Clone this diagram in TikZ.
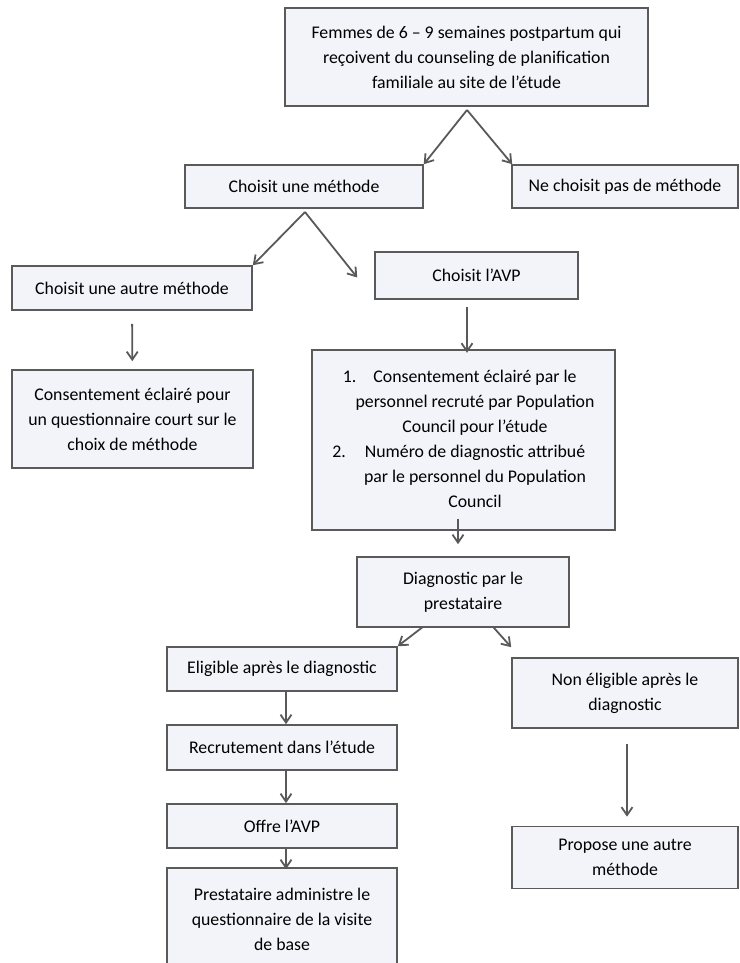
\documentclass[tikz,border=0pt]{standalone}
\usepackage{fontspec}
\setmainfont{Carlito}
\usetikzlibrary{arrows.meta,calc}
\definecolor{boxline}{HTML}{5A5A5A}
\definecolor{boxfill}{HTML}{F3F4FA}
\definecolor{arrowgray}{HTML}{595959}

\begin{document}
\begin{tikzpicture}[x=1pt,y=-1pt,>={Straight Barb[length=8pt,width=11pt]},
  box/.style={draw=boxline,fill=boxfill,line width=1.6pt,align=center,inner sep=0pt,
    font=\fontsize{17.8}{25}\selectfont},
  flow/.style={->,draw=arrowgray,line width=1.8pt}]
  \useasboundingbox (0,0) rectangle (739,963);
  % boxes
  \node[box,minimum width=363,minimum height=98] (femmes) at (466.5,57)
    {Femmes de 6 -- 9 semaines postpartum qui\\ reçoivent du counseling de planification\\ familiale au site de l’étude};
  \node[box,minimum width=238,minimum height=43] (choix) at (304,186.5) {Choisit une méthode};
  \node[box,minimum width=226,minimum height=43] (nochoix) at (625,186.5) {Ne choisit pas de méthode};
  \node[box,minimum width=240,minimum height=44] (autre) at (132,288) {Choisit une autre méthode};
  \node[box,minimum width=203,minimum height=47] (avp) at (476.5,275.5) {Choisit l’AVP};
  \node[box,minimum width=241,minimum height=98] (consent) at (132.5,419)
    {Consentement éclairé pour\\ un questionnaire court sur le\\ choix de méthode};
  \node[box,minimum width=303,minimum height=180] (big) at (463.5,440)
    {\raisebox{6.5pt}{\begin{tabular}{@{\hspace{23pt}}c@{}}
      \llap{1.\hspace{17pt}}Consentement éclairé par le\\
      personnel recruté par Population\\
      Council pour l’étude\\
      \llap{2.\hspace{19pt}}Numéro de diagnostic attribué\\
      par le personnel du Population\\
      Council
    \end{tabular}}};
  \node[box,minimum width=212,minimum height=70] (diag) at (463,592) {Diagnostic par le\\ prestataire};
  \node[box,minimum width=230,minimum height=44] (elig) at (282,669) {Eligible après le diagnostic};
  \node[box,minimum width=226,minimum height=70] (noelig) at (625,693) {Non éligible après le\\ diagnostic};
  \node[box,minimum width=230,minimum height=45] (recrut) at (282,747.5) {Recrutement dans l’étude};
  \node[box,minimum width=230,minimum height=44] (offre) at (282,826) {Offre l’AVP};
  \node[box,minimum width=230,minimum height=102] (presta) at (282,919)
    {Prestataire administre le\\ questionnaire de la visite\\ de base};
  \node[box,minimum width=226,minimum height=62] (propose) at (625,857.5) {Propose une autre\\ méthode};
  % forks
  \coordinate (fork1) at (467,110);
  \coordinate (fork2) at (305,212);
  % arrows
  \draw[flow] (fork1) -- (choix.north east);
  \draw[flow] (fork1) -- ($(nochoix.north west)+(1,0)$);
  \draw[flow] (fork2) -- (autre.north east);
  \draw[flow] (fork2) -- ($(avp.west)+(-17,2)$);
  \draw[flow,shorten <=13pt,shorten >=8pt] (autre) -- (consent);
  \draw[flow] ($(avp.south)+(-9.5,7)$) -- ++(0,46);
  \draw[flow] ($(big.south)+(-5.5,-12)$) -- ($(diag.north)+(-5,-12)$);
  \draw[flow] ($(diag.south)+(-40,-1)$) -- (elig.north east);
  \draw[flow] ($(diag.south)+(30,-1)$) -- ($(noelig.north west)+(0,-10)$);
  \draw[flow] ([xshift=4pt]elig.south) -- ([xshift=4pt]recrut.north);
  \draw[flow] ([xshift=4pt]recrut.south) -- ([xshift=4pt]offre.north);
  \draw[flow] ([xshift=4pt]offre.south) -- ([xshift=4pt,yshift=-2pt]presta.north);
  \draw[flow,shorten <=15pt,shorten >=9pt] ([xshift=2pt]noelig.south) -- ([xshift=2pt]propose.north);
\end{tikzpicture}
\end{document}
